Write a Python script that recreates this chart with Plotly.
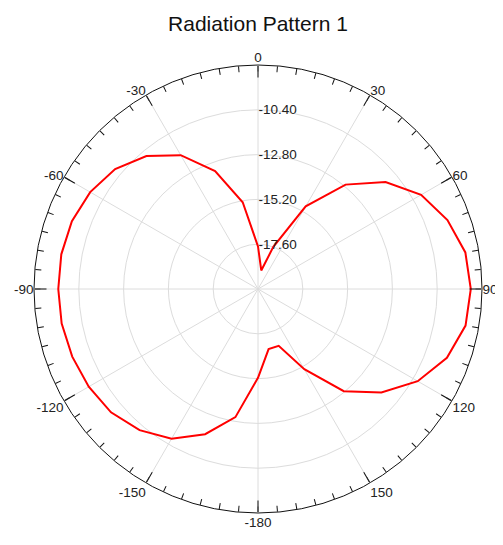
import plotly.graph_objects as go

# Angles (degrees, clockwise from top) and gain values (dB)
angles = [-180, -170, -160, -150, -140, -130, -120, -110, -100, -90,
          -80, -70, -60, -50, -40, -30, -20, -10,
          0, 10, 20, 30, 40, 50, 60, 70, 80, 90,
          100, 110, 120, 130, 140, 150, 160, 170, 180]
gain = [-15.24, -13.03, -11.72, -10.74, -10.13, -9.72, -9.53, -9.41, -9.32, -9.30,
        -9.30, -9.39, -9.62, -10.01, -10.70, -11.72, -13.28, -15.28,
        -17.72, -18.99, -17.60, -14.89, -12.70, -11.08, -9.91, -9.20, -8.72, -8.60,
        -8.71, -9.23, -10.12, -11.37, -12.85, -15.04, -16.76, -16.73, -15.24]

major_vals = [0, 30, 60, 90, 120, 150, 180, 210, 240, 270, 300, 330]
major_text = ["0", "30", "60", "90", "120", "150", "-180", "-150", "-120", "-90", "-60", "-30"]
minor_vals = list(range(0, 360, 5))
radial_vals = [-17.6, -15.2, -12.8, -10.4]
radial_text = ["-17.60", "-15.20", "-12.80", "-10.40"]
r_range = [-20, -8]

OFF = 8  # page body margin
W, H = 503 - OFF, 545 - OFF
cx, cy, R = 258 - OFF, 289 - OFF, 224
dom_x = [(cx - R) / W, (cx + R) / W]
dom_y = [(H - cy - R) / H, (H - cy + R) / H]

font = "Liberation Sans, Arial, sans-serif"
tick_font = dict(family=font, size=13.5, color="#222")

fig = go.Figure()
# hidden trace so the minor-tick polar subplot is drawn
fig.add_trace(go.Scatterpolar(r=[r_range[0]], theta=[0], mode="markers",
                              marker=dict(opacity=0), hoverinfo="skip",
                              showlegend=False, subplot="polar"))
fig.add_trace(go.Scatterpolar(r=gain, theta=angles, mode="lines",
                              line=dict(color="#ff0000", width=2),
                              showlegend=False, subplot="polar2"))

fig.update_layout(
    width=W, height=H,
    margin=dict(l=0, r=0, t=0, b=0),
    paper_bgcolor="white",
    font=dict(family=font, size=13, color="#222"),
    title=dict(text="Radiation Pattern 1", x=cx / W, xanchor="center",
               y=1 - (24 - OFF) / H, yanchor="middle", yref="container",
               font=dict(family=font, size=21, color="#111")),
    polar=dict(
        domain=dict(x=dom_x, y=dom_y),
        bgcolor="white",
        angularaxis=dict(rotation=90, direction="clockwise",
                         tickmode="array", tickvals=minor_vals,
                         ticktext=["" for _ in minor_vals],
                         ticks="inside", ticklen=6, tickcolor="#111", tickwidth=1,
                         showgrid=False, showline=True, linecolor="#111", linewidth=1),
        radialaxis=dict(range=r_range, showgrid=False, showline=False,
                        showticklabels=False, ticks=""),
    ),
    polar2=dict(
        domain=dict(x=dom_x, y=dom_y),
        bgcolor="rgba(0,0,0,0)",
        angularaxis=dict(rotation=90, direction="clockwise",
                         tickmode="array", tickvals=major_vals, ticktext=major_text,
                         ticks="inside", ticklen=12, tickcolor="#111", tickwidth=1,
                         showgrid=True, gridcolor="#dcdcdc", gridwidth=1,
                         showline=False, tickfont=tick_font),
        radialaxis=dict(range=r_range, angle=90, side="clockwise", tickangle=90,
                        tickmode="array", tickvals=radial_vals, ticktext=radial_text,
                        showgrid=True, gridcolor="#dcdcdc", gridwidth=1,
                        showline=False, ticks="", tickfont=tick_font),
    ),
)

fig.write_html("out.html")
